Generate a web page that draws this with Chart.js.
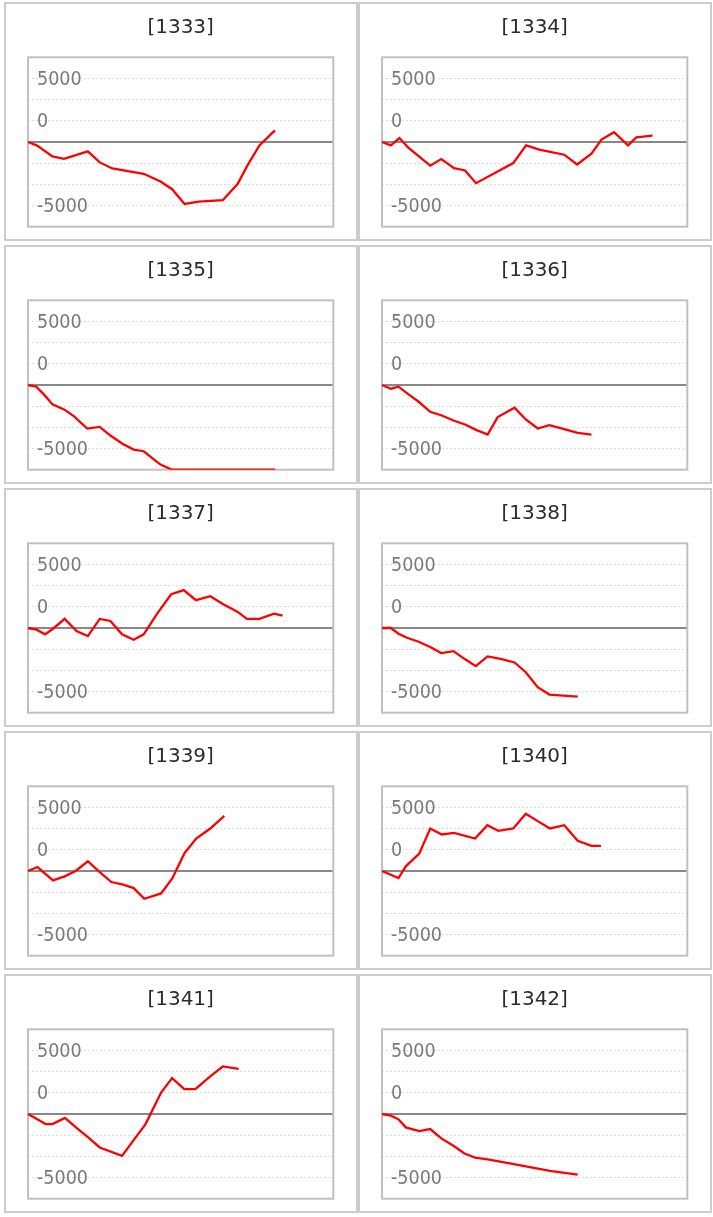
<!DOCTYPE html>
<html>
<head>
<meta charset="utf-8">
<script src="https://cdn.jsdelivr.net/npm/chart.js@4.4.1/dist/chart.umd.min.js"></script>
<style>
  body { margin: 0; background: #fff; }
  #grid {
    position: absolute; left: 4px; top: 2px;
    display: grid; grid-template-columns: 354px 354px; grid-auto-rows: 239px; row-gap: 4px;
  }
  .panel { box-sizing: border-box; border: 2px solid #ccc; }
  canvas { display: block; }
</style>
</head>
<body>
<div id="grid"></div>
<script>
'use strict'

// chart ids (shown as [id] titles)
const chartIds = ['1333', '1334', '1335', '1336', '1337', '1338', '1339', '1340', '1341', '1342']

// y axis
const yMin = -10000
const yMax = 10000
const yStep = 2500
const yTickValues = [7500, 2500, -7500]
const yTickLabels = ['5000', '0', '-5000']

// x = position in period (0-100), y = cumulative value
const x1333 = [0, 3.0, 8.0, 11.8, 19.6, 23.5, 27.6, 37.9, 43.4, 47.2, 51.3, 55.9, 63.8, 68.7, 71.7, 75.8, 80.9]
const y1333 = [0, -430, -1700, -1980, -1100, -2410, -3120, -3750, -4660, -5570, -7310, -7030, -6870, -4940, -2880, -400, 1380]

const x1334 = [0, 2.9, 5.7, 8.7, 15.8, 19.4, 23.6, 27.2, 30.8, 43.0, 47.2, 51.5, 59.7, 63.9, 68.6, 71.9, 76.0, 80.6, 83.3, 88.6]
const y1334 = [0, -400, 470, -710, -2800, -2020, -3080, -3360, -4860, -2490, -400, -910, -1500, -2650, -1380, 280, 1150, -400, 550, 750]

const x1335 = [0, 2.7, 5.2, 8.0, 11.8, 15.0, 19.4, 23.5, 27.0, 30.8, 34.6, 37.9, 40.6, 43.4, 47.2, 80.9]
const y1335 = [0, -200, -1110, -2290, -2880, -3670, -5140, -4940, -5970, -6910, -7620, -7820, -8610, -9400, -10000, -10000]

const x1336 = [0, 2.9, 5.4, 8.7, 12.0, 15.8, 19.6, 23.4, 27.2, 31.0, 34.6, 37.9, 43.4, 47.1, 51.0, 54.8, 59.4, 64.1, 68.6]
const y1336 = [0, -440, -200, -1110, -1980, -3160, -3600, -4190, -4660, -5330, -5850, -3790, -2690, -4070, -5140, -4740, -5180, -5650, -5850]

const x1337 = [0, 2.8, 5.6, 8.5, 12.0, 15.9, 19.6, 23.5, 27.0, 30.8, 34.6, 37.9, 42.3, 46.9, 51.0, 55.0, 59.7, 64.1, 68.7, 71.7, 75.8, 80.6, 83.4]
const y1337 = [0, -200, -750, 0, 1070, -360, -950, 1070, 830, -750, -1380, -750, 1700, 3990, 4470, 3280, 3750, 2770, 1900, 1070, 1070, 1700, 1460]

const x1338 = [0, 2.9, 5.4, 8.2, 12.0, 15.8, 19.4, 23.4, 27.0, 30.7, 34.6, 39.2, 43.4, 47.1, 51.0, 54.8, 59.4, 64.1]
const y1338 = [0, 0, -670, -1150, -1620, -2250, -2960, -2730, -3640, -4500, -3360, -3670, -4070, -5220, -6990, -7860, -7980, -8100]

const x1339 = [0, 3.1, 8.2, 12.0, 15.6, 19.6, 23.5, 27.3, 31.2, 34.6, 38.1, 43.6, 47.2, 51.3, 55.1, 59.7, 64.3]
const y1339 = [0, 470, -1110, -630, 0, 1150, -120, -1300, -1620, -2020, -3280, -2650, -910, 2130, 3830, 5020, 6520]

const x1340 = [0, 5.4, 7.8, 12.2, 15.8, 19.6, 23.6, 30.5, 34.5, 38.1, 43.0, 47.1, 51.0, 55.0, 59.7, 64.1, 68.6, 71.7]
const y1340 = [0, -830, 550, 2050, 5020, 4310, 4500, 3830, 5410, 4740, 5020, 6760, 5890, 5020, 5410, 3560, 2960, 2960]

const x1341 = [0, 5.8, 8.0, 12.1, 16.1, 19.9, 23.5, 30.8, 34.6, 38.5, 43.6, 47.2, 51.2, 54.8, 59.9, 63.8, 69.0]
const y1341 = [0, -1190, -1190, -470, -1700, -2810, -3950, -4940, -3080, -1190, 2530, 4230, 2930, 2930, 4510, 5610, 5330]

const x1342 = [0, 2.9, 5.4, 7.8, 12.2, 15.8, 19.4, 23.4, 27.0, 30.5, 34.6, 42.3, 55.0, 64.1]
const y1342 = [0, -200, -630, -1580, -2020, -1780, -2880, -3750, -4660, -5140, -5370, -5850, -6720, -7150]

const seriesById = {
    '1333': [x1333, y1333], '1334': [x1334, y1334], '1335': [x1335, y1335], '1336': [x1336, y1336],
    '1337': [x1337, y1337], '1338': [x1338, y1338], '1339': [x1339, y1339], '1340': [x1340, y1340],
    '1341': [x1341, y1341], '1342': [x1342, y1342]
}

// gray frame round the plot area
const plotFrame = {
    id: 'plotFrame',
    beforeDatasetsDraw(chart) {
        const {ctx, chartArea: a} = chart
        ctx.save()
        ctx.strokeStyle = '#c0c0c0'
        ctx.lineWidth = 2
        ctx.strokeRect(a.left, a.top, a.right - a.left, a.bottom - a.top)
        ctx.restore()
    }
}

function tickLabel(value) {
    const i = yTickValues.indexOf(value)
    if (i >= 0) return yTickLabels[i]
    if (value === yMin || value === yMax) return null
    return ''
}

function drawPanel(id) {
    const panel = document.createElement('div')
    panel.className = 'panel'
    const canvas = document.createElement('canvas')
    canvas.width = 350
    canvas.height = 235
    panel.appendChild(canvas)
    document.getElementById('grid').appendChild(panel)

    const [xs, ys] = seriesById[id]
    const points = xs.map((x, i) => ({x: x, y: ys[i]}))

    return new Chart(canvas.getContext('2d'), {
        type: 'line',
        data: {
            datasets: [{
                data: points,
                borderColor: '#ff0000',
                borderWidth: 2.3,
                pointRadius: 0,
                tension: 0,
                fill: false,
                clip: {left: 2, top: 1, right: 1, bottom: 0}
            }]
        },
        options: {
            responsive: false,
            animation: false,
            events: [],
            layout: {padding: {left: 22, right: 22.7, top: 0, bottom: 12.3}},
            plugins: {
                legend: {display: false},
                tooltip: {enabled: false},
                title: {
                    display: true,
                    text: '[' + id + ']',
                    color: '#2b2b2b',
                    font: {family: 'DejaVu Sans', size: 20, weight: 'normal'},
                    padding: {top: 12, bottom: 17.3}
                }
            },
            scales: {
                x: {type: 'linear', min: 0, max: 100, display: false},
                y: {
                    min: yMin,
                    max: yMax,
                    // labels sit inside the plot, so the axis takes no room
                    afterFit: (s) => { s.width = 0; s.paddingTop = 0; s.paddingBottom = 0 },
                    border: {
                        display: false,
                        dash: (c) => (c.tick && c.tick.value !== 0) ? [2, 2] : []
                    },
                    grid: {
                        drawTicks: false,
                        color: (c) => c.tick && c.tick.value === 0 ? '#888888' : '#dddddd',
                        lineWidth: (c) => c.tick && c.tick.value === 0 ? 2 : 1
                    },
                    ticks: {
                        stepSize: yStep,
                        autoSkip: false,
                        mirror: true,
                        padding: 9,
                        labelOffset: 1,
                        color: '#7a7a7a',
                        font: {family: 'DejaVu Sans Condensed', size: 19.5},
                        callback: tickLabel
                    }
                }
            }
        },
        plugins: [plotFrame]
    })
}

for (const id of chartIds) {
    drawPanel(id)
}
</script>
</body>
</html>
